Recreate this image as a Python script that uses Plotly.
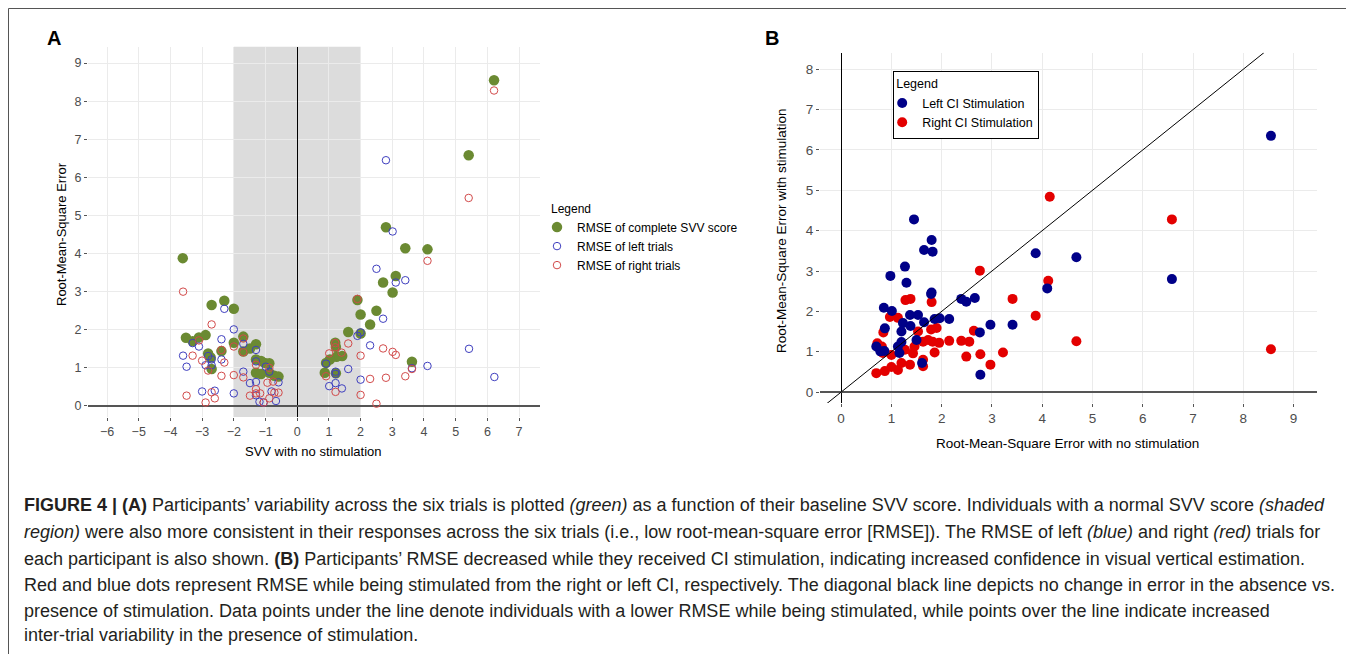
import plotly.graph_objects as go

W, H = 1354, 654
OX, OY = 8, 8  # page body margin offset of the plot div

# ---------------- Panel A data (SVV with no stimulation vs RMSE) ----------------
a_green_x = [-3.61, -3.51, -3.30, -3.10, -2.89, -2.70, -2.30, -2.00, -2.81, -2.73, -2.70, -2.39, -2.00,
             -1.70, -1.70, -1.49, -1.30, -1.30, -1.14, -1.02, -0.88, -1.30, -1.14, -0.88, -0.72, -0.59,
             2.80, 3.41, 4.11, 3.11, 2.71, 3.01, 1.90, 2.50, 2.00, 2.30, 1.61, 2.00, 1.20, 1.22, 1.42,
             1.24, 1.03, 0.91, 0.87, 1.22, 3.62, 6.21, 5.41]
a_green_y = [3.88, 1.79, 1.70, 1.80, 1.86, 2.65, 2.76, 2.55, 1.38, 1.27, 0.97, 1.44, 1.66,
             1.82, 1.43, 1.51, 1.62, 1.22, 1.18, 1.13, 1.12, 0.87, 0.84, 0.87, 0.79, 0.77,
             4.69, 4.14, 4.11, 3.41, 3.24, 2.98, 2.78, 2.50, 2.40, 2.14, 1.94, 1.90, 1.66, 1.55, 1.31,
             1.29, 1.22, 1.13, 0.87, 0.86, 1.16, 8.55, 6.58]

a_left_x = [-2.30, -2.00, -2.39, -3.30, -3.10, -3.60, -3.49, -2.81, -2.70, -2.39, -2.89, -2.70, -3.00,
            -2.60, -2.00, -1.70, -1.70, -1.49, -1.30, -1.30, -1.30, -0.99, -0.88, -0.81, -0.67, -0.59,
            -1.19, -1.06, -1.30,
            2.80, 3.01, 2.50, 3.41, 3.11, 2.71, 2.00, 1.90, 2.30, 5.42, 0.91, 1.21, 1.21, 1.61, 3.62,
            4.11, 6.22, 2.00, 1.01, 1.21, 1.41]
a_left_y = [2.55, 2.01, 1.75, 1.65, 1.56, 1.32, 1.03, 1.31, 1.22, 1.22, 1.07, 1.07, 0.38,
            0.40, 0.33, 1.63, 0.90, 0.60, 1.47, 1.17, 0.63, 1.03, 0.90, 0.38, 0.13, 0.62,
            0.11, 0.09, 0.28,
            6.45, 4.58, 3.60, 3.30, 3.24, 2.29, 1.93, 1.84, 1.59, 1.50, 1.11, 0.90, 0.84, 0.97, 0.99,
            1.05, 0.76, 0.69, 0.52, 0.60, 0.46]

a_right_x = [-3.60, -2.70, -3.10, -3.30, -3.00, -2.81, -2.39, -2.30, -2.39, -2.00, -2.00, -2.70, -2.60,
             -2.89, -3.49, -1.70, -1.70, -1.70, -1.49, -1.30, -1.30, -1.30, -1.17, -0.88, -0.94, -0.88,
             -0.76, -0.72, -0.59, -1.06,
             4.11, 1.90, 1.61, 1.20, 1.20, 1.01, 1.40, 2.00, 2.71, 3.01, 3.11, 3.62, 3.41, 2.80, 2.30,
             0.91, 1.21, 2.00, 2.50, 6.21, 5.41]
a_right_y = [3.00, 2.14, 1.72, 1.32, 1.19, 0.93, 1.47, 1.14, 0.79, 0.81, 1.56, 0.36, 0.20,
             0.09, 0.27, 1.77, 1.41, 0.75, 0.27, 1.08, 0.44, 0.33, 0.33, 1.00, 0.61, 0.20,
             0.64, 0.35, 0.35, 0.09,
             3.81, 2.81, 1.64, 1.65, 1.54, 1.38, 1.40, 1.32, 1.51, 1.42, 1.34, 0.97, 0.78, 0.74, 0.71,
             0.78, 0.37, 0.29, 0.06, 8.28, 5.46]

# ---------------- Panel B data (RMSE no stimulation vs RMSE with stimulation) ----------------
b_left_x = [1.45, 1.80, 1.65, 1.82, 0.98, 1.27, 1.30, 1.79, 1.80, 2.39, 2.49, 2.66, 0.85, 1.01,
            1.37, 1.53, 1.23, 1.38, 1.65, 1.86, 1.96, 2.15, 0.87, 1.20, 1.50, 1.20, 0.70, 0.78,
            0.86, 1.13, 1.16, 2.76, 2.97, 3.41, 1.61, 2.77, 3.87, 4.10, 4.68, 6.58, 8.55]
b_left_y = [4.28, 3.77, 3.52, 3.48, 2.88, 3.11, 2.71, 2.43, 2.47, 2.31, 2.24, 2.33, 2.09, 2.01,
            1.91, 1.91, 1.71, 1.64, 1.73, 1.81, 1.83, 1.81, 1.58, 1.50, 1.29, 1.24, 1.13, 1.01,
            1.02, 1.13, 0.97, 1.48, 1.67, 1.67, 0.72, 0.43, 3.44, 2.57, 3.34, 2.80, 6.35]

b_right_x = [4.15, 2.76, 1.28, 1.38, 1.80, 3.41, 4.12, 3.87, 0.84, 0.97, 1.13, 1.53, 1.79, 1.90,
             2.64, 0.72, 0.81, 0.83, 1.00, 1.27, 1.43, 1.46, 1.63, 1.73, 1.82, 1.95, 2.15, 2.39,
             2.55, 1.86, 2.49, 2.77, 3.22, 2.97, 1.63, 1.63, 0.70, 0.87, 1.00, 1.13, 1.20, 1.37,
             4.68, 6.58, 8.55]
b_right_y = [4.84, 3.01, 2.28, 2.31, 2.23, 2.31, 2.76, 1.89, 1.48, 1.86, 1.84, 1.50, 1.55, 1.59,
             1.52, 1.21, 1.13, 0.97, 0.92, 1.05, 0.96, 1.13, 1.25, 1.29, 1.25, 1.22, 1.27, 1.27,
             1.25, 0.98, 0.88, 0.94, 0.98, 0.68, 0.80, 0.64, 0.47, 0.52, 0.62, 0.55, 0.72, 0.68,
             1.26, 4.28, 1.06]

a_x_range = [-6.6, 7.66]
a_y_range = [-0.29, 9.43]
b_x_range = [-0.42, 9.46]
b_y_range = [-0.27, 8.41]
normal_svv = [-2, 2]

caption_lines = [
    "<b>FIGURE 4 | (A)</b> Participants’ variability across the six trials is plotted <i>(green)</i> as a function of their baseline SVV score. Individuals with a normal SVV score <i>(shaded</i>",
    "<i>region)</i> were also more consistent in their responses across the six trials (i.e., low root-mean-square error [RMSE]). The RMSE of left <i>(blue)</i> and right <i>(red)</i> trials for",
    "each participant is also shown. <b>(B)</b> Participants’ RMSE decreased while they received CI stimulation, indicating increased confidence in visual vertical estimation.",
    "Red and blue dots represent RMSE while being stimulated from the right or left CI, respectively. The diagonal black line depicts no change in error in the absence vs.",
    "presence of stimulation. Data points under the line denote individuals with a lower RMSE while being stimulated, while points over the line indicate increased",
    "inter-trial variability in the presence of stimulation.",
]


def px(x):
    return (x - OX) / W


def py(y):
    return 1 - (y - OY) / H


FONT = "Liberation Sans, Arial, Helvetica, sans-serif"
GREEN = "#6b8a32"
BLUE_O = "#3f3fbf"
RED_O = "#d24a4a"
NAVY = "#000088"
RED = "#e30000"

fig = go.Figure()

# Panel A traces
fig.add_trace(go.Scatter(x=a_green_x, y=a_green_y, mode="markers", name="RMSE of complete SVV score",
                         marker=dict(color=GREEN, size=10.5), xaxis="x", yaxis="y", legend="legend"))
fig.add_trace(go.Scatter(x=a_left_x, y=a_left_y, mode="markers", name="RMSE of left trials",
                         marker=dict(color=BLUE_O, size=7.5, symbol="circle-open", line=dict(width=1)),
                         xaxis="x", yaxis="y", legend="legend"))
fig.add_trace(go.Scatter(x=a_right_x, y=a_right_y, mode="markers", name="RMSE of right trials",
                         marker=dict(color=RED_O, size=7.5, symbol="circle-open", line=dict(width=1)),
                         xaxis="x", yaxis="y", legend="legend"))

# Panel B traces
fig.add_trace(go.Scatter(x=b_right_x, y=b_right_y, mode="markers", name="Right CI Stimulation",
                         marker=dict(color=RED, size=10), xaxis="x2", yaxis="y2", legend="legend2",
                         legendrank=2))
fig.add_trace(go.Scatter(x=b_left_x, y=b_left_y, mode="markers", name="Left CI Stimulation",
                         marker=dict(color=NAVY, size=10), xaxis="x2", yaxis="y2", legend="legend2",
                         legendrank=1))

axis_common = dict(dtick=1, tick0=0, showgrid=True, gridcolor="#ebebeb", gridwidth=1,
                   zeroline=True, showline=False, ticks="outside", ticklen=3, tickcolor="#555555",
                   tickwidth=1)

fig.update_layout(
    width=W, height=H, margin=dict(l=0, r=0, t=0, b=0),
    paper_bgcolor="white", plot_bgcolor="white",
    font=dict(family=FONT, color="#000000"),
    xaxis=dict(domain=[px(88), px(540)], range=a_x_range, anchor="y",
               zerolinecolor="#000000", zerolinewidth=1.2,
               tickfont=dict(size=12.5, color="#4d4d4d"), **axis_common),
    yaxis=dict(domain=[py(417), py(46.7)], range=a_y_range, anchor="x",
               zerolinecolor="#555555", zerolinewidth=1.6,
               tickfont=dict(size=12.5, color="#4d4d4d"), **axis_common),
    xaxis2=dict(domain=[px(820), px(1316.7)], range=b_x_range, anchor="y2",
                zerolinecolor="#000000", zerolinewidth=1.2,
                tickfont=dict(size=13.5, color="#4d4d4d"), **axis_common),
    yaxis2=dict(domain=[py(403), py(52.7)], range=b_y_range, anchor="x2",
                zerolinecolor="#555555", zerolinewidth=1.6,
                tickfont=dict(size=13.5, color="#4d4d4d"), **axis_common),
    legend=dict(x=px(549), y=py(197), xanchor="left", yanchor="top",
                title=dict(text="Legend", font=dict(size=12)), font=dict(size=12),
                bgcolor="rgba(0,0,0,0)", indentation=-12, itemwidth=30),
    legend2=dict(x=px(893), y=py(71), xanchor="left", yanchor="top",
                 title=dict(text="Legend", font=dict(size=12.5)), font=dict(size=12.5),
                 bgcolor="white", bordercolor="#000000", borderwidth=1.2,
                 indentation=-12, itemwidth=30),
    showlegend=True,
)

# shaded normal SVV region
fig.add_shape(type="rect", xref="x", yref="y domain", x0=normal_svv[0], x1=normal_svv[1], y0=0, y1=1,
              fillcolor="#dcdcdc", line=dict(width=0), layer="below")

# identity line in panel B
fig.add_shape(type="line", xref="x2", yref="y2",
              x0=b_x_range[0], y0=b_x_range[0], x1=b_y_range[1], y1=b_y_range[1],
              line=dict(color="#000000", width=1))

# figure frame
fig.add_shape(type="rect", xref="paper", yref="paper", x0=px(8.5), x1=px(1351.5), y0=-0.05, y1=py(8.5),
              line=dict(color="#555555", width=1), fillcolor="rgba(0,0,0,0)", layer="below")

ann = []


def label(text, x, y, size, angle=0, color="#000000", xanchor="center"):
    ann.append(dict(text=text, x=px(x), y=py(y), xref="paper", yref="paper", showarrow=False,
                    xanchor=xanchor, yanchor="middle", textangle=angle,
                    font=dict(size=size, color=color)))


# panel labels
label("<b>A</b>", 54, 38, 20)
label("<b>B</b>", 772, 38, 20)
# axis titles
label("SVV with no stimulation", 313, 451, 13)
label("Root-Mean-Square Error", 61, 234, 13, angle=-90)
label("Root-Mean-Square Error with no stimulation", 1067, 443, 13.5)
label("Root-Mean-Square Error with stimulation", 782, 231, 13.5, angle=-90)

# caption
cap_y = [505, 532, 559, 585, 611, 635]
for line, yy in zip(caption_lines, cap_y):
    ann.append(dict(text=line, x=px(22), y=py(yy), xref="paper", yref="paper", xanchor="left",
                    yanchor="middle", showarrow=False, align="left",
                    font=dict(size=18, color="#231f20", family=FONT)))
fig.update_layout(annotations=ann)

fig.write_html("out.html")
